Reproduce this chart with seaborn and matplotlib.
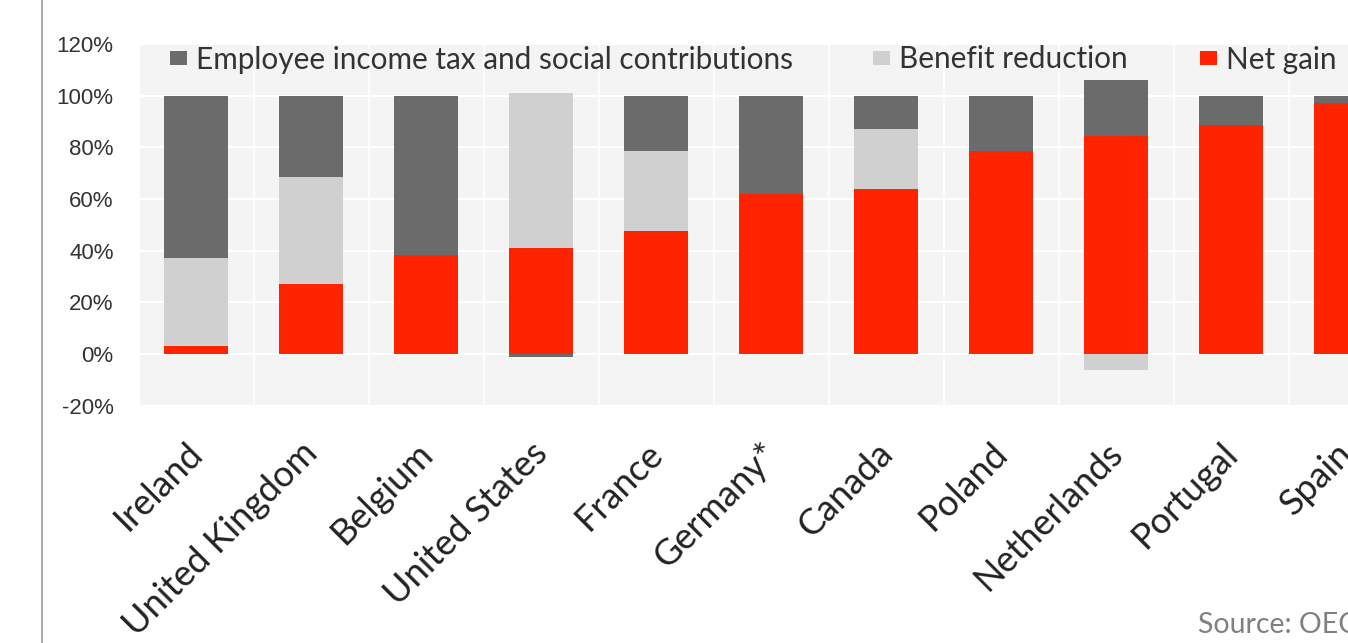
import numpy as np
import pandas as pd
import matplotlib
matplotlib.use("Agg")
import matplotlib.pyplot as plt
from matplotlib.patches import Patch
from matplotlib.lines import Line2D
import seaborn as sns

# ---------------- data ----------------
countries = ["Ireland", "United Kingdom", "Belgium", "United States", "France",
             "Germany*", "Canada", "Poland", "Netherlands", "Portugal", "Spain"]
net_gain = [3, 27, 38.5, 41, 47.5, 62, 64, 78.5, 84.5, 88.5, 97]
benefit_reduction = [34, 41.5, 0, 60, 31, 0, 23, 0, -6, 0, 0]
income_tax = [63, 31.5, 61.5, -1, 21.5, 38, 13, 21.5, 21.5, 11.5, 3]
series_labels = ["Employee income tax and social contributions",
                 "Benefit reduction", "Net gain"]
y_ticks = [-20, 0, 20, 40, 60, 80, 100, 120]
source_text = "Source: OECD"

# ---------------- style ----------------
sns.set_theme(style="white")
plt.rcParams["font.family"] = ["Lato", "DejaVu Sans"]

C_TAX = "#6b6b6b"
C_BEN = "#d0d0d0"
C_NET = "#ff2400"
BG = "#f4f4f4"

W, H = 1348, 643
fig = plt.figure(figsize=(W / 100, H / 100), dpi=100)
ax = fig.add_axes([138.5 / W, 1 - 405.7 / H, 1265 / W, (405.7 - 44.0) / H])
ax.set_facecolor(BG)

# stacking: bottom -> top order is net gain, benefit reduction, tax
stack = np.array([net_gain, benefit_reduction, income_tax], dtype=float)
pos = np.clip(stack, 0, None).cumsum(axis=0)
neg = np.clip(stack, None, 0).cumsum(axis=0)
colors = [C_NET, C_BEN, C_TAX]

for cum in (pos, neg):
    for i in (2, 1, 0):
        df = pd.DataFrame({"country": countries, "value": cum[i]})
        sns.barplot(data=df, x="country", y="value", order=countries,
                    color=colors[i], saturation=1, width=0.56,
                    linewidth=0, errorbar=None, ax=ax)

ax.set_xlim(-0.5, len(countries) - 0.5)
ax.set_ylim(-20, 120)
ax.set_yticks(y_ticks)
ax.set_yticklabels([f"{v}%" for v in y_ticks], family="Liberation Sans",
                   fontsize=16, color="#333333")
ax.set_xlabel("")
ax.set_ylabel("")

# rotated category labels, nudged slightly left of the bar centres
label_shift = -0.09
ax.set_xticks(np.arange(len(countries)) + label_shift)
ax.set_xticklabels(countries, rotation=45, ha="right", va="top",
                   rotation_mode="anchor", fontsize=26, color="#222222")

ax.set_xticks(np.arange(-0.5, len(countries), 1), minor=True)
ax.tick_params(axis="both", which="both", length=0)
ax.tick_params(axis="y", pad=18)
ax.tick_params(axis="x", pad=22)
ax.grid(False)
ax.yaxis.grid(True, color="white", linewidth=1.5)
ax.xaxis.grid(True, which="minor", color="white", linewidth=1.2)
ax.set_axisbelow(True)
for sp in ax.spines.values():
    sp.set_visible(False)

# legend: three entries placed across the top of the plot area
fs = 21.4
for lbl, col, xpx in zip(series_labels, [C_TAX, C_BEN, C_NET], [170, 873, 1200]):
    fig.legend(handles=[Patch(facecolor=col, edgecolor="none", label=lbl)],
               loc="center left", bbox_to_anchor=(xpx / W, 1 - 59.5 / H),
               frameon=False, fontsize=fs, borderpad=0, borderaxespad=0,
               handlelength=0.57, handleheight=0.38, handletextpad=0.3,
               labelcolor="#333333")

# left slide rule and source note
fig.add_artist(Line2D([42 / W, 42 / W], [0, 1], transform=fig.transFigure,
                      color="#a0a0a0", linewidth=1.3))
fig.text(1198 / W, 1 - 633 / H, source_text, fontsize=20.5, color="#808080",
         va="baseline", ha="left")

fig.savefig("out.png", dpi=100)
